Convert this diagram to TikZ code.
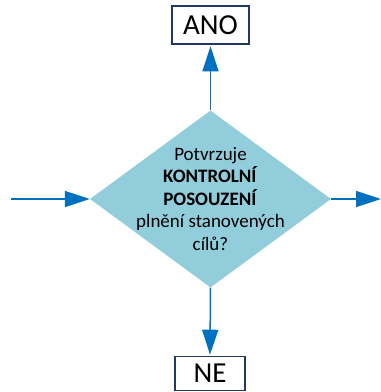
\documentclass[tikz,border=0pt]{standalone}
\usepackage{fontspec}
\setmainfont{Carlito}
\usetikzlibrary{shapes.geometric,arrows.meta}
\definecolor{flowblue}{HTML}{0070C0}
\definecolor{decfill}{HTML}{92CDDC}
\definecolor{boxline}{HTML}{1F3864}
\tikzset{
  decision/.style={diamond, fill=decfill, draw=none, inner sep=0pt,
    minimum width=241pt, minimum height=177pt},
  qtext/.style={align=center, font=\fontsize{19pt}{22.5pt}\selectfont, inner sep=0pt},
  answer/.style={draw=boxline, line width=1.6pt, fill=white, inner sep=0pt,
    font=\fontsize{29pt}{30pt}\selectfont},
  arr/.style={draw=flowblue, line width=1.5pt,
    -{Triangle[length=25pt,width=16pt]}}
}
\begin{document}
\begin{tikzpicture}[x=1pt,y=-1pt]
  \useasboundingbox (0,0) rectangle (381,392);
  % decision diamond and its question
  \node[decision] (q) at (210.5,199) {};
  \node[qtext] (qt) at (210.5,199) {Potvrzuje\\\textbf{KONTROLNÍ}\\\textbf{POSOUZENÍ}\\plnění stanovených\\cílů?};
  % outcome boxes
  \node[answer, minimum width=77pt, minimum height=38pt] (ano) at (210.5,25) {ANO};
  \node[answer, minimum width=70pt, minimum height=34pt] (ne) at (210,373.5) {NE};
  % free ends of the side connectors
  \coordinate (in) at (11,199);
  \coordinate (out) at (381,199);
  % connectors
  \draw[arr] (in) -- (q.west);
  \draw[arr] (q.east) -- (out);
  \draw[arr, shorten >=1.5pt] (q.north) -- (ano.south);
  \draw[arr, shorten >=1pt] (q.south) -- (ne.north);
\end{tikzpicture}
\end{document}
